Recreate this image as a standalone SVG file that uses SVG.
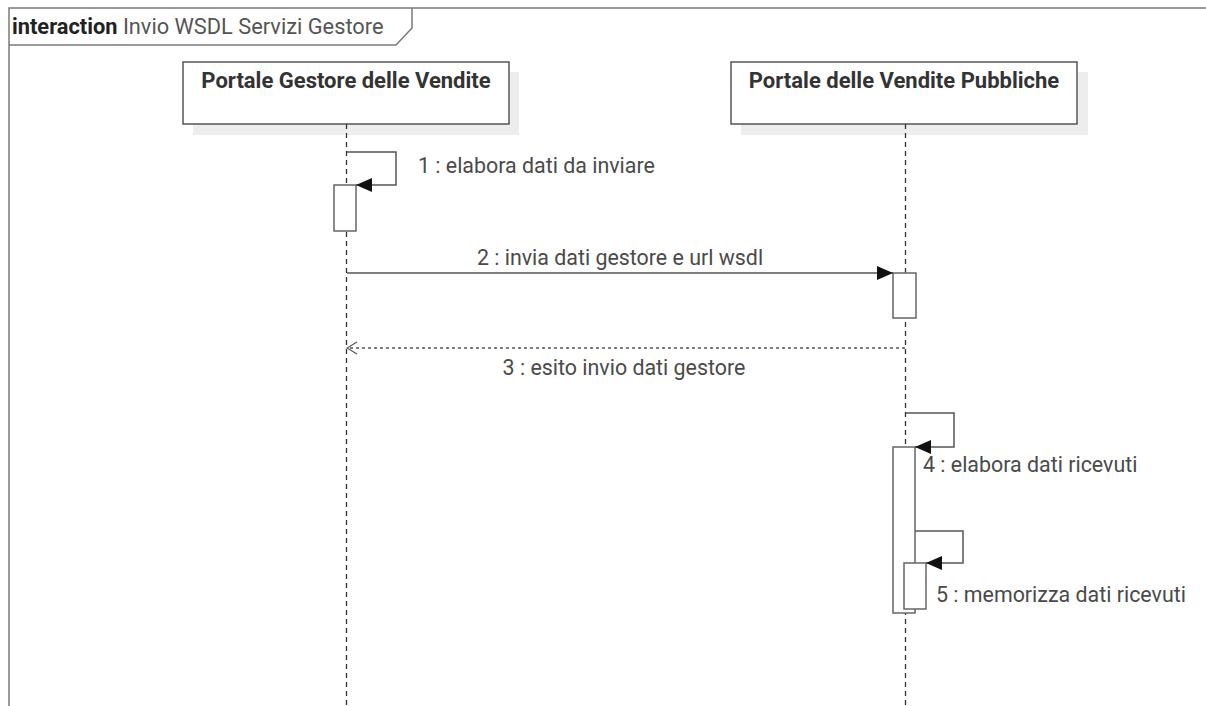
<svg xmlns="http://www.w3.org/2000/svg" width="1206" height="706" viewBox="0 0 1206 706">
<defs>
<style>
.frame{fill:none;stroke:#7a7a7a;stroke-width:1.5}
.box{fill:#fff;stroke:#555;stroke-width:1.5}
.shadow{fill:#ededed;stroke:none}
.life{stroke:#333;stroke-width:1.3;stroke-dasharray:5,4;fill:none}
.act{fill:#fff;stroke:#666;stroke-width:1.5}
.msg{fill:none;stroke:#555;stroke-width:1.5}
.ret{fill:none;stroke:#555;stroke-width:1.3;stroke-dasharray:3,3}
.lt{font-family:Roboto,"Liberation Sans",sans-serif;font-size:22px;font-weight:bold;fill:#333;text-anchor:middle}
.ml{font-family:Roboto,"Liberation Sans",sans-serif;font-size:21.4px;fill:#4a4a4a}
</style>
<marker id="filled" viewBox="0 0 16 14" refX="16" refY="7" markerWidth="16" markerHeight="14" markerUnits="userSpaceOnUse" orient="auto">
<path d="M0,0 L16,7 L0,14 z" fill="#111"/>
</marker>
<marker id="open" viewBox="0 0 12 14" refX="11" refY="7" markerWidth="12" markerHeight="14" markerUnits="userSpaceOnUse" orient="auto">
<path d="M1,1 L11,7 L1,13" fill="none" stroke="#555" stroke-width="1.2"/>
</marker>
</defs>
<rect width="1206" height="706" fill="#fff"/>
<g id="frame">
<path class="frame" d="M9,706 L9,8 L1206,8"/>
<path class="frame" d="M9,45 L396,45 L412,28 L412,8"/>
<text x="12" y="34" font-family="Roboto,'Liberation Sans',sans-serif" font-size="21.8" fill="#333"><tspan font-weight="bold" fill="#222">interaction</tspan> <tspan fill="#555">Invio WSDL Servizi Gestore</tspan></text>
</g>
<g id="lifeline1">
<rect class="shadow" x="193" y="72" width="326" height="63"/>
<rect class="box" x="183" y="62" width="326" height="62"/>
<text class="lt" x="346" y="88">Portale Gestore delle Vendite</text>
<line class="life" x1="346.5" y1="124" x2="346.5" y2="706"/>
</g>
<g id="lifeline2">
<rect class="shadow" x="741" y="72" width="347" height="63"/>
<rect class="box" x="731" y="62" width="346" height="62"/>
<text class="lt" x="904" y="88">Portale delle Vendite Pubbliche</text>
<line class="life" x1="905.5" y1="124" x2="905.5" y2="706"/>
</g>
<g id="activations">
<rect class="act" x="334" y="185" width="22" height="46"/>
<rect class="act" x="893" y="273" width="23" height="45"/>
<rect class="act" x="893" y="447" width="22" height="166"/>
<rect class="act" x="904" y="563" width="22" height="46"/>
</g>
<g id="connectors">
<path class="msg" d="M347,152 L396,152 L396,185 L356,185" marker-end="url(#filled)"/>
<path class="msg" d="M347,273 L893,273" marker-end="url(#filled)"/>
<path class="ret" d="M905,348 L347,348" marker-end="url(#open)"/>
<path class="msg" d="M906,413 L954,413 L954,447 L915,447" marker-end="url(#filled)"/>
<path class="msg" d="M915,531 L963,531 L963,563 L926,563" marker-end="url(#filled)"/>
</g>
<g id="labels">
<text class="ml" x="418" y="173">1 : elabora dati da inviare</text>
<text class="ml" x="620" y="265" text-anchor="middle">2 : invia dati gestore e url wsdl</text>
<text class="ml" x="624" y="375" text-anchor="middle">3 : esito invio dati gestore</text>
<text class="ml" x="923" y="472">4 : elabora dati ricevuti</text>
<text class="ml" x="936" y="602">5 : memorizza dati ricevuti</text>
</g>
</svg>
